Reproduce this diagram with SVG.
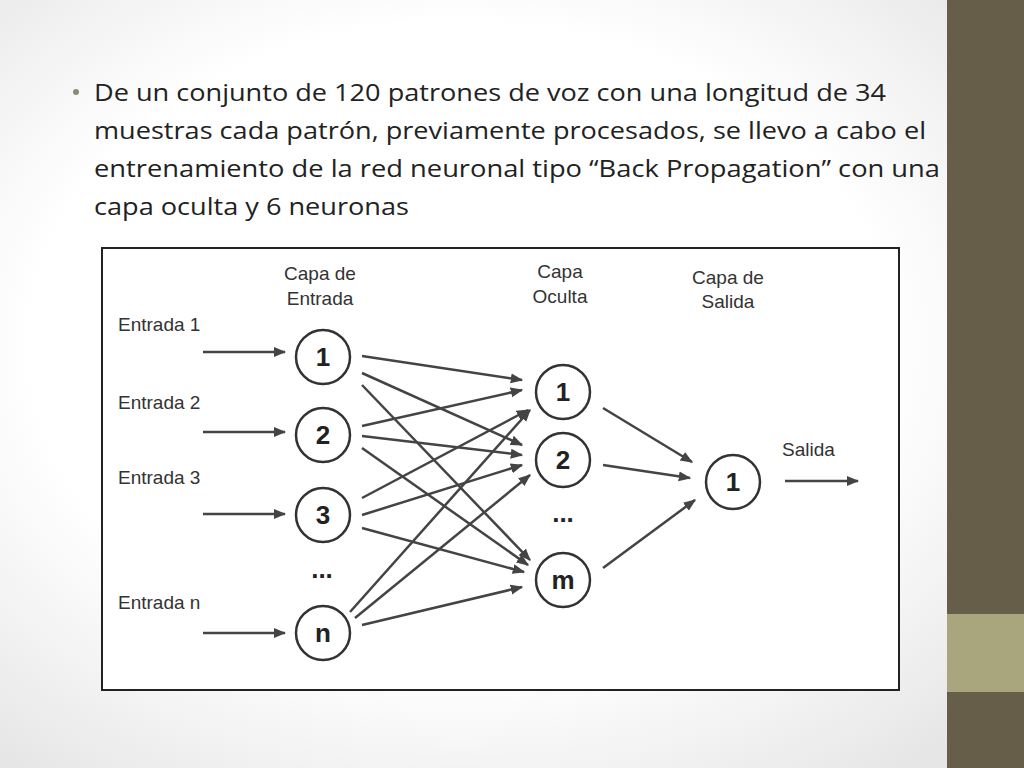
<svg xmlns="http://www.w3.org/2000/svg" width="1024" height="768" viewBox="0 0 1024 768">
<defs>
<radialGradient id="bg" cx="0.45" cy="0.45" r="0.7"><stop offset="0.6" stop-color="#ffffff"/><stop offset="1" stop-color="#e6e6e6"/></radialGradient>
<marker id="ah" viewBox="0 0 10 10" refX="9" refY="5" markerWidth="5" markerHeight="5" orient="auto"><path d="M0,1 L10,5 L0,9 z" fill="#444"/></marker>
</defs>
<style>
.t{font-family:"Open Sans","Noto Sans",sans-serif;font-size:24px;fill:#222}
.l{font-family:"Liberation Sans",Arial,sans-serif;font-size:19px;fill:#333}
.n{font-family:"Liberation Sans",Arial,sans-serif;font-size:26px;font-weight:bold;fill:#222;text-anchor:middle}
.c{fill:#fff;stroke:#333;stroke-width:2.5}
.e{stroke:#444;stroke-width:2.5;fill:none;marker-end:url(#ah)}
</style>
<rect width="1024" height="768" fill="url(#bg)"/>
<rect x="947" y="0" width="77" height="768" fill="#665e48"/>
<rect x="947" y="614" width="77" height="78" fill="#a9a57c"/>
<circle cx="76" cy="92" r="3" fill="#8a8a7a"/>
<text class="t" x="94" y="101" textLength="792" lengthAdjust="spacingAndGlyphs">De un conjunto de 120 patrones de voz con una longitud de 34</text>
<text class="t" x="94" y="139" textLength="832" lengthAdjust="spacingAndGlyphs">muestras cada patrón, previamente procesados, se llevo a cabo el</text>
<text class="t" x="94" y="177" textLength="846" lengthAdjust="spacingAndGlyphs">entrenamiento de la red neuronal tipo “Back Propagation” con una</text>
<text class="t" x="94" y="215" textLength="315" lengthAdjust="spacingAndGlyphs">capa oculta y 6 neuronas</text>
<rect x="102" y="248" width="797" height="442" fill="#fff" stroke="#222" stroke-width="2"/>
<g id="labels">
<text class="l" x="320" y="280" text-anchor="middle">Capa de</text>
<text class="l" x="320" y="305" text-anchor="middle">Entrada</text>
<text class="l" x="560" y="278" text-anchor="middle">Capa</text>
<text class="l" x="560" y="303" text-anchor="middle">Oculta</text>
<text class="l" x="728" y="284" text-anchor="middle">Capa de</text>
<text class="l" x="728" y="308" text-anchor="middle">Salida</text>
<text class="l" x="118" y="331">Entrada 1</text>
<text class="l" x="118" y="409">Entrada 2</text>
<text class="l" x="118" y="484">Entrada 3</text>
<text class="l" x="118" y="609">Entrada n</text>
<text class="l" x="782" y="456">Salida</text>
<text class="n" x="322" y="578">...</text>
<text class="n" x="563" y="522">...</text>
</g>
<g id="connectors">
<line class="e" x1="203" y1="352" x2="285" y2="352"/>
<line class="e" x1="203" y1="432" x2="285" y2="432"/>
<line class="e" x1="203" y1="514" x2="285" y2="514"/>
<line class="e" x1="203" y1="633" x2="285" y2="633"/>
<line class="e" x1="785" y1="481" x2="858" y2="481"/>
<line class="e" x1="362" y1="356" x2="522" y2="380"/>
<line class="e" x1="362" y1="373" x2="522" y2="445"/>
<line class="e" x1="362" y1="385" x2="530" y2="560"/>
<line class="e" x1="362" y1="426" x2="522" y2="390"/>
<line class="e" x1="362" y1="436" x2="522" y2="455"/>
<line class="e" x1="362" y1="448" x2="528" y2="565"/>
<line class="e" x1="362" y1="498" x2="528" y2="410"/>
<line class="e" x1="362" y1="515" x2="522" y2="465"/>
<line class="e" x1="362" y1="528" x2="524" y2="572"/>
<line class="e" x1="350" y1="612" x2="530" y2="410"/>
<line class="e" x1="355" y1="618" x2="530" y2="475"/>
<line class="e" x1="362" y1="625" x2="522" y2="587"/>
<line class="e" x1="603" y1="408" x2="692" y2="462"/>
<line class="e" x1="603" y1="465" x2="690" y2="478"/>
<line class="e" x1="603" y1="568" x2="695" y2="500"/>
</g>
<g id="in1"><circle class="c" cx="323" cy="357" r="27"/><text class="n" x="323" y="366">1</text></g>
<g id="in2"><circle class="c" cx="323" cy="435" r="27"/><text class="n" x="323" y="444">2</text></g>
<g id="in3"><circle class="c" cx="323" cy="515" r="27"/><text class="n" x="323" y="524">3</text></g>
<g id="inn"><circle class="c" cx="323" cy="633" r="27"/><text class="n" x="323" y="642">n</text></g>
<g id="h1"><circle class="c" cx="563" cy="392" r="27"/><text class="n" x="563" y="401">1</text></g>
<g id="h2"><circle class="c" cx="563" cy="460" r="27"/><text class="n" x="563" y="469">2</text></g>
<g id="hm"><circle class="c" cx="563" cy="580" r="27"/><text class="n" x="563" y="589">m</text></g>
<g id="o1"><circle class="c" cx="733" cy="482" r="27"/><text class="n" x="733" y="491">1</text></g>
</svg>
